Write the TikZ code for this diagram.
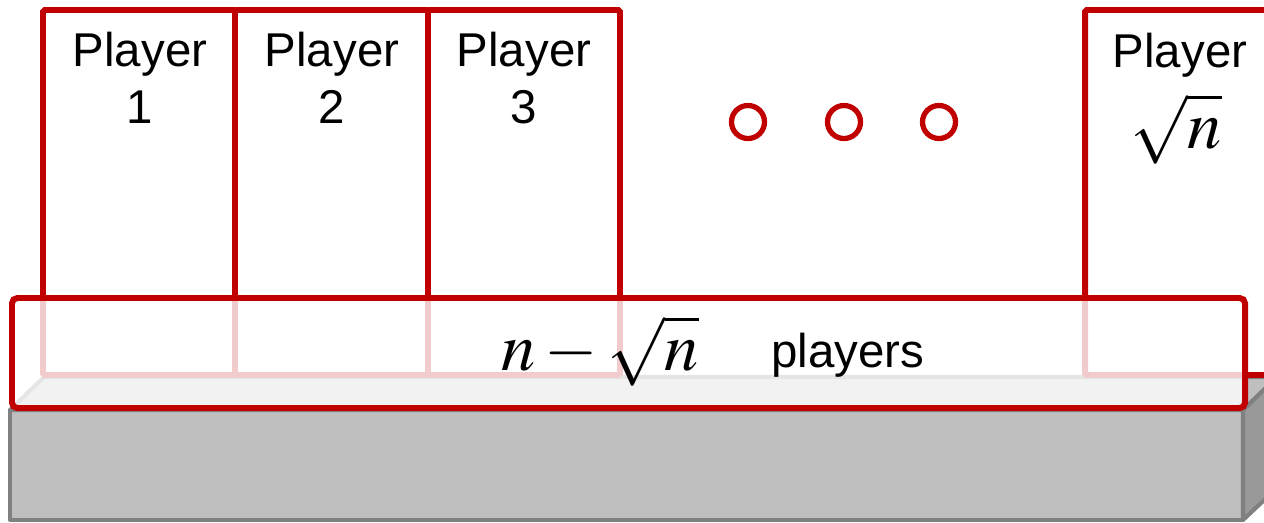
\documentclass[tikz,border=0pt]{standalone}
\usepackage{mathptmx}
\usepackage{fontspec}
\setmainfont{Liberation Sans}
\definecolor{boxred}{HTML}{C00000}
\definecolor{edgegray}{HTML}{808080}
\definecolor{facegray}{HTML}{BFBFBF}
\definecolor{sidegray}{HTML}{999999}

\begin{document}
\begin{tikzpicture}[x=0.02cm, y=-0.02cm,
  every node/.style={inner sep=0pt, font=\fontsize{27}{32}\selectfont},
  playerbox/.style={draw=boxred, line width=3.4pt, rounded corners=1pt},
  mathlbl/.style={font=\fontsize{39}{42}\selectfont}]
  \useasboundingbox (0,0) rectangle (1264,522);
  \clip (0,0) rectangle (1264,522);
  % table: front, top and side faces
  \filldraw[fill=facegray, draw=edgegray, line width=2.3pt, line join=round]
    (10,410) rectangle (1243,520);
  \filldraw[fill=facegray, draw=edgegray, line width=2.3pt, line join=round]
    (10,410) -- (44,377) -- (1277,377) -- (1243,410) -- cycle;
  \filldraw[fill=sidegray, draw=edgegray, line width=2.3pt, line join=round]
    (1243,410) -- (1277,377) -- (1277,488) -- (1243,520) -- cycle;
  % player boxes
  \draw[playerbox] (43,10) rectangle (235,375);
  \draw[playerbox] (235,10) rectangle (428,375);
  \draw[playerbox] (428,10) rectangle (620,375);
  \draw[playerbox] (1085,10) rectangle (1300,375);
  % the other players, semi-transparent white over boxes and table
  \draw[playerbox, fill=white, fill opacity=0.8, rounded corners=3pt]
    (12,298) rectangle (1245,408);
  % labels
  \node[anchor=base, align=center] (p1) at (140,123) {Player\\1};
  \node[anchor=base, align=center] (p2) at (332,123) {Player\\2};
  \node[anchor=base, align=center] (p3) at (524,123) {Player\\3};
  \node[anchor=base] (pn) at (1180,67) {Player};
  \node[anchor=base, mathlbl] (pnroot) at (1176,148) {$\sqrt{n}$};
  \node[anchor=base, mathlbl] (rest) at (600,370) {$n-\sqrt{n}$};
  \node[anchor=base] (players) at (848,367) {players};
  % dots
  \foreach \cx in {748,844,939}
    \draw[boxred, line width=3pt, fill=white] (\cx,122) circle[radius=16.5];
\end{tikzpicture}
\end{document}
